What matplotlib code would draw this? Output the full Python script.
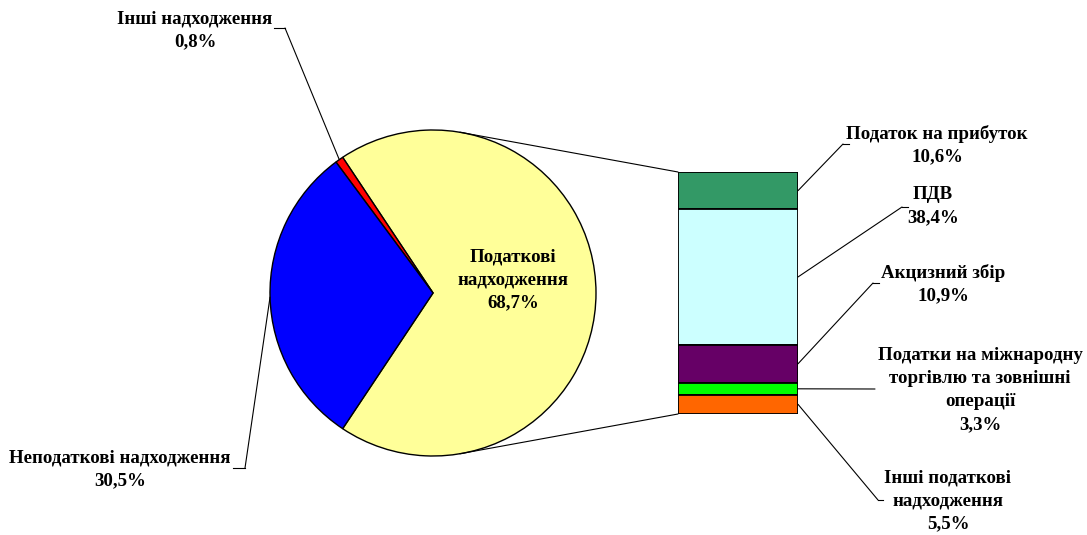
import matplotlib.pyplot as plt
from matplotlib.patches import ConnectionPatch
import numpy as np

# pie: total revenues
pie_labels = ["Податкові\nнадходження", "Інші надходження", "Неподаткові надходження"]
pie_values = [68.7, 0.8, 30.5]
pie_colors = ["#FFFF99", "#FF0000", "#0000FF"]

# bar: breakdown of tax revenues (top to bottom)
bar_labels = [
    "Податок на прибуток",
    "ПДВ",
    "Акцизний збір",
    "Податки на міжнародну\nторгівлю та зовнішні\nоперації",
    "Інші податкові\nнадходження",
]
bar_values = [10.6, 38.4, 10.9, 3.3, 5.5]
bar_colors = ["#339966", "#CCFFFF", "#660066", "#00FF00", "#FF6600"]

W, H = 1087, 535
FONT = dict(family="Liberation Serif", fontweight="bold", fontsize=13.6, linespacing=1.45)


def pct(v):
    return f"{v:.1f}%".replace(".", ",")


fig = plt.figure(figsize=(W / 100, H / 100), dpi=100)

# pie axes (pixel box centred at 433,293, radius 163)
cx, cy, r = 433, 293, 163
ax_pie = fig.add_axes([(cx - r) / W, (H - cy - r) / H, 2 * r / W, 2 * r / H])
start = -pie_values[0] * 3.6 / 2
ax_pie.pie(pie_values, colors=pie_colors, startangle=start, counterclock=True,
           wedgeprops={"edgecolor": "black", "linewidth": 1.0})
ax_pie.set_xlim(-1, 1)
ax_pie.set_ylim(-1, 1)
ax_pie.axis("off")

# bar axes
bx0, bx1, by0, by1 = 678, 798, 172, 414
ax_bar = fig.add_axes([bx0 / W, (H - by1) / H, (bx1 - bx0) / W, (by1 - by0) / H])
total = sum(bar_values)
bottom = total
mids = []
for val, col in zip(bar_values, bar_colors):
    bottom -= val
    ax_bar.bar(0, val, bottom=bottom, width=1.0, color=col, edgecolor="black", linewidth=1.3)
    mids.append(bottom + val / 2)
ax_bar.set_xlim(-0.5, 0.5)
ax_bar.set_ylim(0, total)
ax_bar.axis("off")

# overlay in pixel coordinates for labels and leaders
bg = fig.add_axes([0, 0, 1, 1])
bg.set_xlim(0, W)
bg.set_ylim(H, 0)
bg.patch.set_alpha(0)
bg.axis("off")

# connectors pie -> bar
ang = np.deg2rad(80.5)
for sgn, ybar in [(1, total), (-1, 0)]:
    con = ConnectionPatch(xyA=(np.cos(ang), sgn * np.sin(ang)), coordsA=ax_pie.transData,
                          xyB=(-0.5, ybar), coordsB=ax_bar.transData, color="black", lw=0.8)
    fig.add_artist(con)

# pie labels
bg.text(513, 280, f"{pie_labels[0]}\n{pct(pie_values[0])}", ha="center", va="center", **FONT)

mid_red = np.deg2rad(start + (pie_values[0] + pie_values[1] / 2) * 3.6)
con = ConnectionPatch(xyA=(np.cos(mid_red), np.sin(mid_red)), coordsA=ax_pie.transData,
                      xyB=(285, 28), coordsB=bg.transData, color="black", lw=0.8)
fig.add_artist(con)
bg.plot([274, 285], [28, 28], color="black", lw=0.8)
bg.text(195, 30, f"{pie_labels[1]}\n{pct(pie_values[1])}", ha="center", va="center", **FONT)

mid_blue = np.deg2rad(start + (pie_values[0] + pie_values[1] + pie_values[2] / 2) * 3.6)
con = ConnectionPatch(xyA=(np.cos(mid_blue), np.sin(mid_blue)), coordsA=ax_pie.transData,
                      xyB=(245, 468), coordsB=bg.transData, color="black", lw=0.8)
fig.add_artist(con)
bg.plot([233, 245], [468, 468], color="black", lw=0.8)
bg.text(120, 469, f"{pie_labels[2]}\n{pct(pie_values[2])}", ha="center", va="center", **FONT)

# bar labels: (text centre, elbow, stub end)
bar_label_pos = [
    ((937, 145), (843, 144), (849, 144)),
    ((933, 206), (902, 207), (908, 207)),
    ((943, 284), (873, 283), (879, 283)),
    ((980, 390), (875, 389), (875, 389)),
    ((948, 501), (878, 500), (883, 500)),
]
for lab, val, mid, (tpos, elbow, stub) in zip(bar_labels, bar_values, mids, bar_label_pos):
    con = ConnectionPatch(xyA=(0.5, mid), coordsA=ax_bar.transData,
                          xyB=elbow, coordsB=bg.transData, color="black", lw=0.8)
    fig.add_artist(con)
    bg.plot([elbow[0], stub[0]], [elbow[1], stub[1]], color="black", lw=0.8)
    bg.text(tpos[0], tpos[1], f"{lab}\n{pct(val)}", ha="center", va="center", **FONT)

fig.savefig("out.png", dpi=100)
